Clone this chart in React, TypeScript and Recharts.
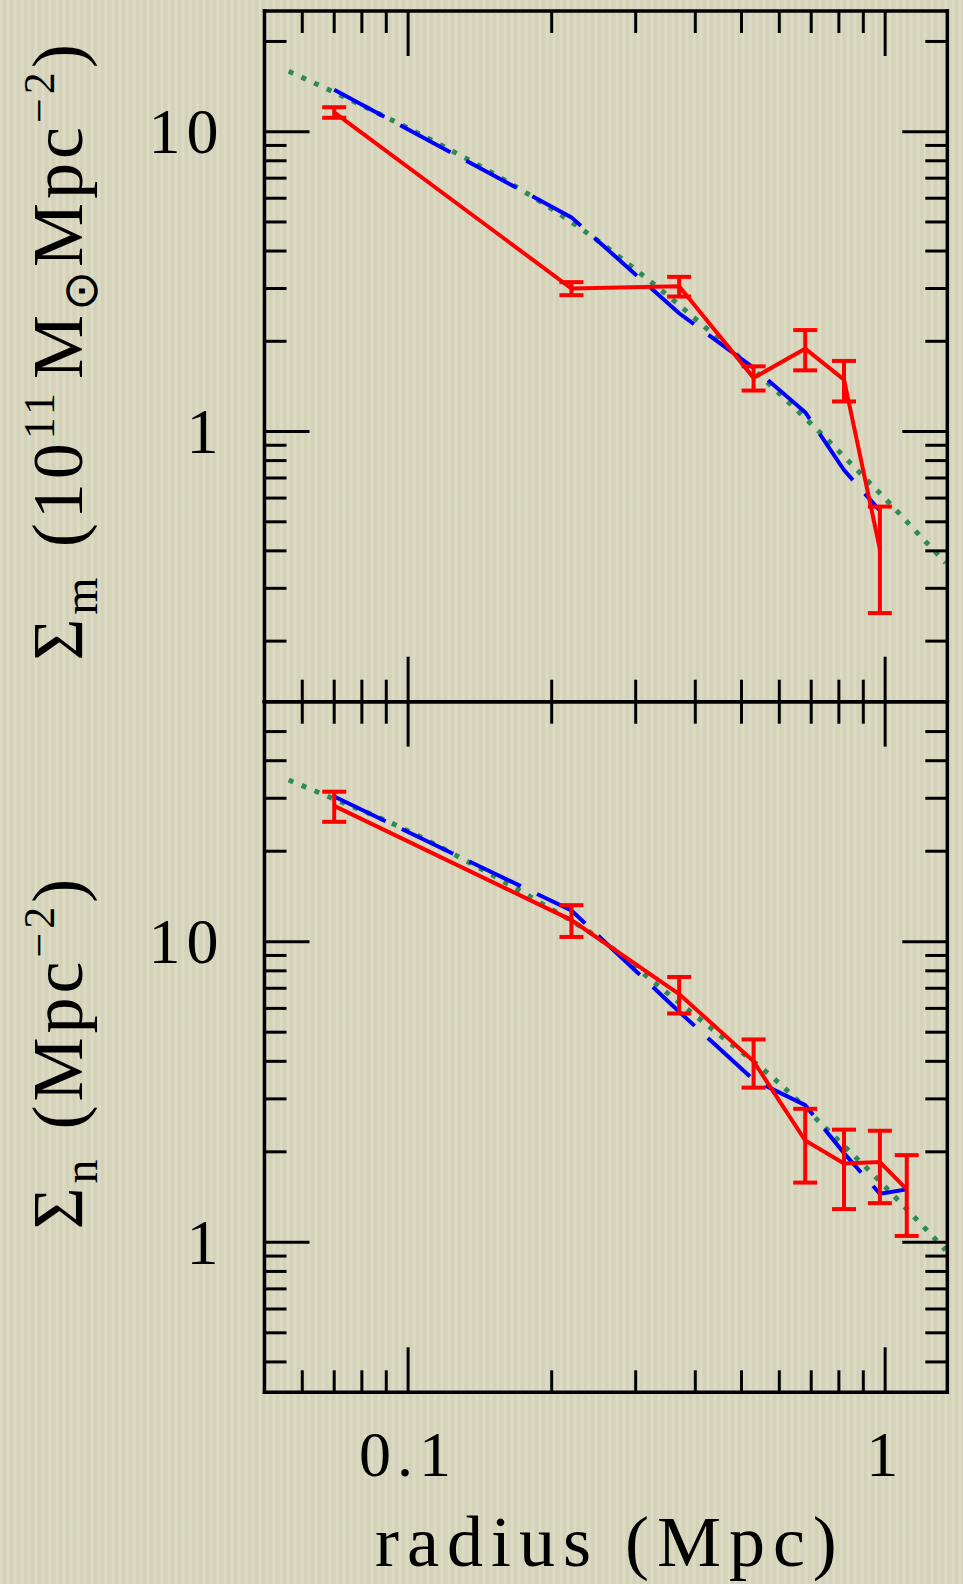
import React from "react";
import { ComposedChart, Line, XAxis, YAxis, ErrorBar } from "recharts";

const SERIF = '"Liberation Serif", "Times New Roman", serif';

// tick values
const RADIUS_TICKS = [0.06, 0.07, 0.08, 0.09, 0.1, 0.2, 0.3, 0.4, 0.5, 0.6, 0.7, 0.8, 0.9, 1];
const RADIUS_LABELS = [0.1, 1];
const MASS_TICKS = [0.2, 0.3, 0.4, 0.5, 0.6, 0.7, 0.8, 0.9, 1, 2, 3, 4, 5, 6, 7, 8, 9, 10, 20];
const NUMBER_TICKS = [0.4, 0.5, 0.6, 0.7, 0.8, 0.9, 1, 2, 3, 4, 5, 6, 7, 8, 9, 10, 20, 30, 40, 50];
const DENSITY_LABELS = [1, 10];
const MAJOR_TICKS = [0.1, 1, 10];

// radial bins (Mpc)
const BIN_RADIUS = [0.07, 0.22, 0.37, 0.53, 0.68, 0.82, 0.975, 1.11];

// mass surface density, 1e11 Msun / Mpc^2
const MASS_OBS = [11.6, 3.0, 3.05, 1.51, 1.89, 1.49, 0.405];
const MASS_ERR = [0.47, 0.15, 0.23, 0.14, 0.29, 0.23, 0.157];
const MASS_MODEL = [13.8, 5.18, 2.48, 1.63, 1.16, 0.744, 0.545];
const MASS_FIT_R = [0.0562, 0.0757, 0.119, 0.1594, 0.2327, 0.3325, 0.426, 0.5997, 0.7516, 0.9016, 1.033, 1.176, 1.34];
const MASS_FIT = [15.9, 12.76, 8.91, 6.9, 4.7, 3.04, 2.18, 1.34, 0.949, 0.707, 0.566, 0.454, 0.365];

// galaxy number surface density, Mpc^-2
const NUM_OBS = [28.3, 11.8, 6.7, 4.0, 2.18, 1.83, 1.85, 1.5];
const NUM_ERR = [3.25, 1.43, 0.93, 0.73, 0.6, 0.54, 0.5, 0.45];
const NUM_MODEL = [30.4, 12.7, 5.85, 3.47, 2.86, 1.98, 1.45, 1.5];
const NUM_FIT_R = [0.0562, 0.068, 0.096, 0.1356, 0.1876, 0.2593, 0.3287, 0.4353, 0.589, 0.78, 0.937, 1.072, 1.228, 1.339];
const NUM_FIT = [34.5, 30.4, 24.1, 18.2, 13.6, 9.9, 7.3, 5.1, 3.47, 2.26, 1.7, 1.365, 1.09, 0.943];

const W = 963;
const H = 1584;
const PLOT_LEFT = 264.5;
const PLOT_RIGHT = 947.3;
const TOP_EDGE = 11;
const MID_EDGE = 701.7;
const BOTTOM_EDGE = 1392.3;
const X_DOMAIN: [number, number] = [0.05, 1.35];

const rows = (r: number[], v: number[], e?: number[]) =>
  v.map((val, i) => ({ r: r[i], v: val, e: e ? e[i] : 0 }));

const tickLength = (v: number) => (MAJOR_TICKS.includes(v) ? 45 : 22);
const TICK = { stroke: "#000", strokeWidth: 3 };
const FRAME = { stroke: "#000", strokeWidth: 3.5, strokeLinecap: "square" as const };

const leftTick = (labels: number[]) => (props: any) => {
  const { x, y, payload } = props;
  const v = payload.value;
  return (
    <g>
      <line x1={x} y1={y} x2={x + tickLength(v)} y2={y} {...TICK} />
      {labels.includes(v) && (
        <text x={x - 40} y={y} dy="0.34em" textAnchor="end" fontFamily={SERIF} fontSize={64} letterSpacing={6} fill="#000">
          {v}
        </text>
      )}
    </g>
  );
};

const rightTick = (props: any) => {
  const { x, y, payload } = props;
  return <line x1={x} y1={y} x2={x - tickLength(payload.value)} y2={y} {...TICK} />;
};

const topTick = (props: any) => {
  const { x, y, payload } = props;
  return <line x1={x} y1={y} x2={x} y2={y + tickLength(payload.value)} {...TICK} />;
};

const bottomTick = (labels: number[]) => (props: any) => {
  const { x, y, payload } = props;
  const v = payload.value;
  return (
    <g>
      <line x1={x} y1={y} x2={x} y2={y - tickLength(v)} {...TICK} />
      {labels.includes(v) && (
        <text x={x} y={y + 84} textAnchor="middle" fontFamily={SERIF} fontSize={64} letterSpacing={6} fill="#000">
          {v}
        </text>
      )}
    </g>
  );
};

const MassLabel = (props: any) => {
  const vb = props.viewBox;
  const cx = vb.x + 82;
  const cy = vb.y + vb.height / 2 - 6;
  return (
    <text transform={`rotate(-90 ${cx} ${cy})`} x={cx} y={cy} textAnchor="middle" fontFamily={SERIF} fontSize={72} letterSpacing={4} fill="#000">
      Σ<tspan dy={15} fontSize={48}>m</tspan>
      <tspan dy={-15} dx={26}>(10</tspan>
      <tspan dy={-28} fontSize={44}>11</tspan>
      <tspan dy={28} dx={10}>M</tspan>
      <tspan dy={15} fontSize={48}>⊙</tspan>
      <tspan dy={-15}>Mpc</tspan>
      <tspan dy={-28} fontSize={44}>−2</tspan>
      <tspan dy={28}>)</tspan>
    </text>
  );
};

const NumberLabel = (props: any) => {
  const vb = props.viewBox;
  const cx = vb.x + 82;
  const cy = vb.y + vb.height / 2 + 5;
  return (
    <text transform={`rotate(-90 ${cx} ${cy})`} x={cx} y={cy} textAnchor="middle" fontFamily={SERIF} fontSize={72} letterSpacing={4} fill="#000">
      Σ<tspan dy={15} fontSize={48}>n</tspan>
      <tspan dy={-15} dx={26}>(Mpc</tspan>
      <tspan dy={-28} fontSize={44}>−2</tspan>
      <tspan dy={28}>)</tspan>
    </text>
  );
};

const RadiusLabel = (props: any) => {
  const vb = props.viewBox;
  return (
    <text x={vb.x + vb.width / 2 + 4} y={vb.y + 174} textAnchor="middle" fontFamily={SERIF} fontSize={72} letterSpacing={8} fill="#000">
      radius (Mpc)
    </text>
  );
};

interface PanelProps {
  top: number;
  bottom: number;
  yDomain: [number, number];
  yTicks: number[];
  obs: { r: number; v: number; e: number }[];
  model: { r: number; v: number; e: number }[];
  fit: { r: number; v: number; e: number }[];
  yLabel: (p: any) => React.ReactElement;
  showRadius: boolean;
}

function Panel({ top, bottom, yDomain, yTicks, obs, model, fit, yLabel, showRadius }: PanelProps) {
  return (
    <div style={{ position: "absolute", left: 0, top: 0 }}>
      <ComposedChart width={W} height={H} margin={{ top: 0, right: 0, bottom: 0, left: 0 }}>
        <XAxis
          xAxisId="b"
          orientation="bottom"
          type="number"
          dataKey="r"
          scale="log"
          domain={X_DOMAIN}
          allowDataOverflow
          ticks={RADIUS_TICKS}
          interval={0}
          height={H - bottom}
          tickSize={0}
          tickMargin={0}
          tickLine={false}
          axisLine={FRAME}
          tick={bottomTick(showRadius ? RADIUS_LABELS : [])}
          label={showRadius ? { content: RadiusLabel } : undefined}
        />
        <XAxis
          xAxisId="t"
          orientation="top"
          type="number"
          dataKey="r"
          scale="log"
          domain={X_DOMAIN}
          allowDataOverflow
          ticks={RADIUS_TICKS}
          interval={0}
          height={top}
          tickSize={0}
          tickMargin={0}
          tickLine={false}
          axisLine={FRAME}
          tick={topTick}
        />
        <YAxis
          yAxisId="l"
          orientation="left"
          type="number"
          scale="log"
          domain={yDomain}
          allowDataOverflow
          ticks={yTicks}
          interval={0}
          width={PLOT_LEFT}
          tickSize={0}
          tickMargin={0}
          tickLine={false}
          axisLine={FRAME}
          tick={leftTick(DENSITY_LABELS)}
          label={{ content: yLabel }}
        />
        <YAxis
          yAxisId="r"
          orientation="right"
          type="number"
          scale="log"
          domain={yDomain}
          allowDataOverflow
          ticks={yTicks}
          interval={0}
          width={W - PLOT_RIGHT}
          tickSize={0}
          tickMargin={0}
          tickLine={false}
          axisLine={FRAME}
          tick={rightTick}
        />
        <Line
          xAxisId="b"
          yAxisId="l"
          data={fit}
          dataKey="v"
          type="monotone"
          stroke="#2e8b57"
          strokeWidth={5}
          strokeDasharray="5 9"
          dot={false}
          isAnimationActive={false}
        />
        <Line
          xAxisId="b"
          yAxisId="l"
          data={model}
          dataKey="v"
          type="linear"
          stroke="#0000ff"
          strokeWidth={4}
          strokeDasharray="57 18"
          dot={false}
          isAnimationActive={false}
        />
        <Line
          xAxisId="b"
          yAxisId="l"
          data={obs}
          dataKey="v"
          type="linear"
          stroke="#ff0000"
          strokeWidth={4}
          dot={false}
          isAnimationActive={false}
        >
          <ErrorBar dataKey="e" direction="y" width={12} stroke="#ff0000" strokeWidth={4} isAnimationActive={false} />
        </Line>
      </ComposedChart>
    </div>
  );
}

export default function App() {
  const massObs = rows(BIN_RADIUS, MASS_OBS, MASS_ERR);
  const massModel = rows(BIN_RADIUS, MASS_MODEL);
  const massFit = rows(MASS_FIT_R, MASS_FIT);
  const numObs = rows(BIN_RADIUS, NUM_OBS, NUM_ERR);
  const numModel = rows(BIN_RADIUS, NUM_MODEL);
  const numFit = rows(NUM_FIT_R, NUM_FIT);

  return (
    <div
      style={{
        position: "absolute",
        left: 0,
        top: 0,
        width: W,
        height: H,
        overflow: "hidden",
        backgroundColor: "#d9d7bf",
        backgroundImage:
          "repeating-linear-gradient(90deg, rgba(255,255,240,0.10) 0px, rgba(255,255,240,0.10) 2px, rgba(120,110,80,0.05) 3px, rgba(120,110,80,0.05) 5px, rgba(255,255,240,0.0) 7px)",
      }}
    >
      <Panel
        top={TOP_EDGE}
        bottom={MID_EDGE}
        yDomain={[0.1256, 25.27]}
        yTicks={MASS_TICKS}
        obs={massObs}
        model={massModel}
        fit={massFit}
        yLabel={MassLabel}
        showRadius={false}
      />
      <Panel
        top={MID_EDGE}
        bottom={BOTTOM_EDGE}
        yDomain={[0.317, 62.86]}
        yTicks={NUMBER_TICKS}
        obs={numObs}
        model={numModel}
        fit={numFit}
        yLabel={NumberLabel}
        showRadius={true}
      />
    </div>
  );
}
